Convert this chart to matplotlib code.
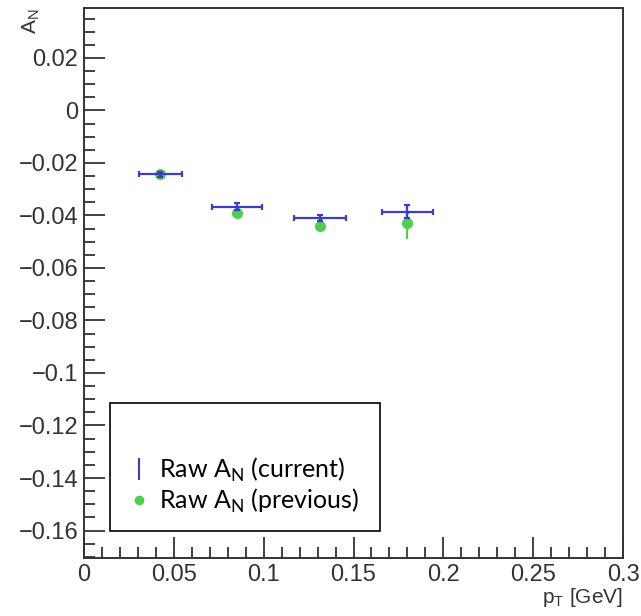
import matplotlib
matplotlib.use("Agg")
import matplotlib.pyplot as plt
from matplotlib.lines import Line2D
from matplotlib.ticker import MultipleLocator

# pT bins [GeV]
pt = [0.0425, 0.085, 0.1315, 0.180]
pt_err = [0.012, 0.014, 0.0145, 0.014]

# raw A_N, current analysis
an_cur = [-0.0244, -0.0366, -0.0410, -0.0385]
an_cur_err = [0.0010, 0.0012, 0.0012, 0.0023]

# raw A_N, previous analysis
an_prev = [-0.0244, -0.0389, -0.0442, -0.0430]
an_prev_err = [0.0015, 0.0015, 0.0020, 0.0060]

labels = [r"Raw A$_\mathregular{N}$ (current)", r"Raw A$_\mathregular{N}$ (previous)"]

BLUE = "#3c3cc8"
GREEN = "#4fcf4f"
GREY = "#333333"

fig = plt.figure(figsize=(6.41, 6.16), dpi=100)
ax = fig.add_axes([0.131, 0.094, 0.841, 0.893])

ax.errorbar(pt, an_prev, yerr=an_prev_err, fmt="o", color=GREEN,
            ms=7, elinewidth=1.5, capsize=0, zorder=2)
ax.errorbar(pt, an_cur, xerr=pt_err, yerr=an_cur_err, fmt=".", color=BLUE,
            ms=3, elinewidth=1.6, capsize=2.5, capthick=1.6, zorder=3)

ax.set_xlim(0, 0.3)
ax.set_ylim(-0.1705, 0.039)

ax.xaxis.set_major_locator(MultipleLocator(0.05))
ax.xaxis.set_minor_locator(MultipleLocator(0.01))
ax.yaxis.set_major_locator(MultipleLocator(0.02))
ax.yaxis.set_minor_locator(MultipleLocator(0.005))

ax.tick_params(which="both", direction="in", top=False, right=False,
               colors=GREY, labelcolor=GREY, labelsize=17, width=1.3)
ax.tick_params(which="major", length=15, pad=4)
ax.tick_params(which="minor", length=8)

fmt = lambda v, _: "0" if abs(v) < 1e-9 else ("%g" % v).replace("-", "\u2212")
ax.xaxis.set_major_formatter(fmt)
ax.yaxis.set_major_formatter(fmt)
for lab in ax.get_xticklabels() + ax.get_yticklabels():
    lab.set_family("Liberation Sans")

for s in ax.spines.values():
    s.set_color(GREY)
    s.set_linewidth(1.4)

ax.set_xlabel(r"p$_\mathregular{T}$ [GeV]", family="Liberation Sans", fontsize=15,
              color=GREY, loc="right", labelpad=0)
fig.text(0.048, 0.987, r"A$_\mathregular{N}$", family="Liberation Sans", fontsize=15,
         color=GREY, rotation=90, ha="center", va="top")

# legend: blue vertical bar, green dot, like the ROOT legend
h_cur = Line2D([], [], color=BLUE, marker="|", ms=16, mew=1.5, ls="none")
h_prev = Line2D([], [], color=GREEN, marker="o", ms=6, ls="none")
leg = ax.legend(handles=[h_cur, h_prev], labels=labels, loc="lower left",
                bbox_to_anchor=(0.048, 0.049, 0.501, 0.235), mode="expand",
                prop={"family": "Lato", "size": 18},
                title=" ", title_fontsize=24,
                frameon=True, fancybox=False, framealpha=1,
                edgecolor="black", handlelength=1.0, handletextpad=0.3,
                borderpad=0.65, labelspacing=0.12, borderaxespad=0)
leg.get_frame().set_linewidth(1.2)

fig.savefig("out.png", dpi=100)
